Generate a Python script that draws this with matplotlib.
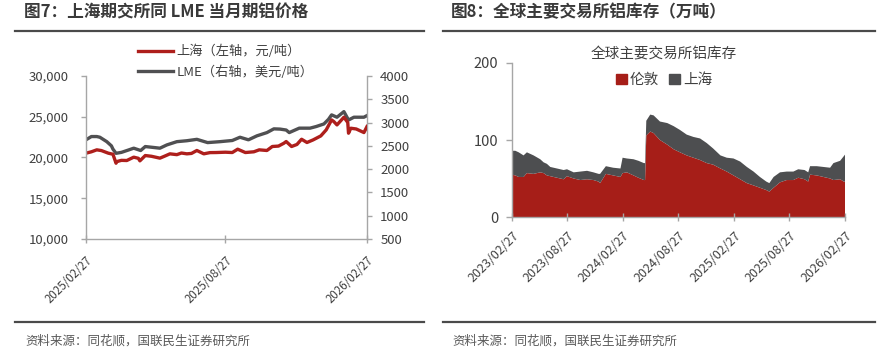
import matplotlib
matplotlib.use("Agg")
import matplotlib.pyplot as plt
import matplotlib.dates as mdates
from matplotlib.lines import Line2D
from matplotlib.patches import Patch
from matplotlib.ticker import StrMethodFormatter, MultipleLocator
import pandas as pd

plt.rcParams['font.family'] = ['Noto Sans CJK SC', 'DejaVu Sans']

# ---------------- data: left chart (price) ----------------
shfe_dates = ["2025-02-27", "2025-03-06", "2025-03-13", "2025-03-19", "2025-03-28", "2025-04-03",
              "2025-04-07", "2025-04-08", "2025-04-14", "2025-04-21", "2025-04-30", "2025-05-06",
              "2025-05-08", "2025-05-15", "2025-05-23", "2025-06-03", "2025-06-10", "2025-06-16",
              "2025-06-25", "2025-07-01", "2025-07-08", "2025-07-14", "2025-07-21", "2025-07-30",
              "2025-08-07", "2025-08-15", "2025-08-27", "2025-09-05", "2025-09-12", "2025-09-22",
              "2025-10-03", "2025-10-10", "2025-10-20", "2025-10-27", "2025-11-04", "2025-11-11",
              "2025-11-14", "2025-11-21", "2025-11-28", "2025-12-04", "2025-12-11", "2025-12-19",
              "2025-12-29", "2026-01-05", "2026-01-12", "2026-01-15", "2026-01-19", "2026-01-28",
              "2026-02-02", "2026-02-03", "2026-02-06", "2026-02-13", "2026-02-23", "2026-02-27"]
shfe_price = [20530, 20700, 20940, 20850, 20530, 20400,
              19300, 19500, 19650, 19630, 20040, 19900,
              19590, 20240, 20150, 19920, 20200, 20450,
              20350, 20550, 20450, 20500, 20860, 20450,
              20600, 20610, 20650, 20610, 21020, 20610,
              20700, 20940, 20860, 21350, 21400, 21750,
              21960, 21350, 21600, 22240, 21840, 22160,
              22650, 23390, 24610, 24400, 24000, 24940,
              24300, 22980, 23590, 23500, 23060, 23800]

lme_dates = ["2025-02-27", "2025-03-06", "2025-03-13", "2025-03-17", "2025-03-26", "2025-04-01",
             "2025-04-03", "2025-04-07", "2025-04-14", "2025-04-23", "2025-04-30", "2025-05-09",
             "2025-05-15", "2025-05-26", "2025-06-03", "2025-06-12", "2025-06-25", "2025-07-08",
             "2025-07-21", "2025-08-04", "2025-08-20", "2025-09-05", "2025-09-15", "2025-09-26",
             "2025-10-07", "2025-10-20", "2025-10-29", "2025-11-06", "2025-11-14", "2025-11-18",
             "2025-12-01", "2025-12-15", "2025-12-23", "2026-01-02", "2026-01-08", "2026-01-12",
             "2026-01-19", "2026-01-28", "2026-02-03", "2026-02-10", "2026-02-23", "2026-02-27"]
lme_price = [2630, 2700, 2700, 2685, 2590, 2500,
             2430, 2340, 2360, 2410, 2450, 2400,
             2485, 2465, 2450, 2520, 2590, 2610,
             2640, 2570, 2590, 2615, 2685, 2630,
             2715, 2785, 2865, 2860, 2840, 2785,
             2880, 2880, 2915, 2970, 3070, 3165,
             3115, 3235, 3055, 3115, 3115, 3150]

left_ticks = ["2025-02-27", "2025-08-27", "2026-02-27"]

# ---------------- data: right chart (inventory, 万吨) ----------------
inv_dates = ["2023-02-27", "2023-03-10", "2023-03-21", "2023-04-06", "2023-04-17", "2023-05-09",
             "2023-05-31", "2023-06-11", "2023-06-22", "2023-07-03", "2023-07-25", "2023-08-16",
             "2023-08-27", "2023-09-18", "2023-10-10", "2023-11-01", "2023-11-22", "2023-12-09",
             "2023-12-14", "2024-01-02", "2024-01-26", "2024-02-19", "2024-02-26", "2024-03-11",
             "2024-04-02", "2024-04-18", "2024-05-06", "2024-05-10", "2024-05-14", "2024-05-27",
             "2024-06-07", "2024-06-28", "2024-07-22", "2024-08-12", "2024-09-02", "2024-09-24",
             "2024-10-16", "2024-11-07", "2024-11-29", "2024-12-20", "2025-01-13", "2025-02-03",
             "2025-02-25", "2025-03-19", "2025-04-10", "2025-05-02", "2025-05-23", "2025-06-13",
             "2025-06-23", "2025-07-07", "2025-07-28", "2025-08-19", "2025-09-10", "2025-09-26",
             "2025-10-17", "2025-10-29", "2025-11-04", "2025-11-26", "2025-12-18", "2026-01-09",
             "2026-01-20", "2026-02-11", "2026-02-23", "2026-02-27"]
london = [55, 54, 52, 52, 57, 56, 58, 57, 54, 53, 51, 49, 53, 50, 48, 49, 48, 46, 44, 56,
          54, 52, 57, 58, 54, 51, 48, 48, 106, 111, 109, 100, 94, 88, 84, 80, 77, 74, 70, 68,
          63, 59, 54, 49, 44, 41, 38, 35, 33, 38, 45, 48, 48, 51, 49, 46, 55, 54, 52, 50,
          48, 49, 46, 46]
shanghai = [31, 32, 32, 28, 27, 24, 17, 14, 15, 12, 12, 12, 9, 8, 11, 11, 10, 10, 12, 10,
            10, 11, 20, 18, 21, 22, 22, 22, 19, 22, 23, 24, 28, 30, 29, 27, 27, 28, 26, 21,
            17, 18, 22, 23, 21, 18, 14, 11, 11, 14, 13, 11, 11, 11, 12, 12, 11, 12, 13, 14,
            22, 24, 33, 35]

right_ticks = ["2023-02-27", "2023-08-27", "2024-02-27", "2024-08-27",
               "2025-02-27", "2025-08-27", "2026-02-27"]

# ---------------- styling ----------------
RED_LINE = "#AE1F1C"
GRAY_LINE = "#505052"
RED_FILL = "#A61E18"
GRAY_FILL = "#4D4E50"
SPINE = "#A6A6A6"
TXT = "#404040"

W, H = 894, 358
fig = plt.figure(figsize=(W / 100, H / 100), dpi=100)


def fx(px):
    return px / W


def fy(py):
    return 1 - py / H


# titles
fig.text(fx(24), fy(12), "图7：上海期交所同 LME 当月期铝价格", fontsize=12, fontweight='bold',
         color="#3A3A3A", ha='left', va='center')
fig.text(fx(451), fy(12), "图8：全球主要交易所铝库存（万吨）", fontsize=12, fontweight='bold',
         color="#3A3A3A", ha='left', va='center')
# separator lines
for (x0, x1) in [(15, 424), (443, 875)]:
    for yy in (30.5, 322.3):
        fig.add_artist(Line2D([fx(x0), fx(x1)], [fy(yy), fy(yy)], color="#4A4A4A", lw=1.6,
                              transform=fig.transFigure))
# footers
fig.text(fx(25), fy(341), "资料来源：同花顺，国联民生证券研究所", fontsize=9, color="#595959",
         ha='left', va='center')
fig.text(fx(452), fy(341), "资料来源：同花顺，国联民生证券研究所", fontsize=9, color="#595959",
         ha='left', va='center')

# ---------------- left chart ----------------
ax1 = fig.add_axes([fx(86), fy(239), fx(367) - fx(86), fy(76) - fy(239)])
ax2 = ax1.twinx()
ax1.set_zorder(ax2.get_zorder() + 1)
ax1.patch.set_visible(False)

d_shfe = pd.to_datetime(shfe_dates)
d_lme = pd.to_datetime(lme_dates)
l2, = ax2.plot(d_lme, lme_price, color=GRAY_LINE, lw=2.4, solid_joinstyle='round')
l1, = ax1.plot(d_shfe, shfe_price, color=RED_LINE, lw=2.4, solid_joinstyle='round')

ax1.set_ylim(10000, 30000)
ax1.yaxis.set_major_locator(MultipleLocator(5000))
ax1.yaxis.set_major_formatter(StrMethodFormatter('{x:,.0f}'))
ax2.set_ylim(500, 4000)
ax2.yaxis.set_major_locator(MultipleLocator(500))
ax1.set_xlim(pd.Timestamp(left_ticks[0]), pd.Timestamp(left_ticks[-1]))
ax1.set_xticks(pd.to_datetime(left_ticks))
ax1.xaxis.set_major_formatter(mdates.DateFormatter('%Y/%m/%d'))

for a in (ax1, ax2):
    a.spines['top'].set_visible(False)
    for s in ('left', 'right', 'bottom'):
        a.spines[s].set_color(SPINE)
        a.spines[s].set_linewidth(1.0)
ax1.spines['right'].set_visible(False)
ax2.spines['left'].set_visible(False)
ax2.spines['bottom'].set_visible(False)

ax1.tick_params(axis='y', direction='out', length=3.5, width=1, color=SPINE,
                labelsize=9.5, labelcolor=TXT, pad=9)
ax2.tick_params(axis='y', direction='out', length=3.5, width=1, color=SPINE,
                labelsize=9.5, labelcolor=TXT, pad=6)
ax1.tick_params(axis='x', direction='inout', length=6, width=1, color=SPINE,
                labelsize=8.3, labelcolor=TXT, pad=8)
for lab in ax1.get_xticklabels():
    lab.set_rotation(45)
    lab.set_ha('right')
    lab.set_va('top')
    lab.set_rotation_mode('anchor')

fig.legend([l1, l2], ["上海（左轴，元/吨）", "LME（右轴，美元/吨）"],
           loc='center', bbox_to_anchor=(fx(226), fy(62)), ncol=1, frameon=False,
           fontsize=9.5, handlelength=2.6, handletextpad=0.3, labelspacing=0.55,
           labelcolor=TXT, borderpad=0)

# ---------------- right chart ----------------
ax3 = fig.add_axes([fx(512), fy(217), fx(845) - fx(512), fy(63) - fy(217)])
d_inv = pd.to_datetime(inv_dates)
ax3.stackplot(d_inv, london, shanghai, colors=[RED_FILL, GRAY_FILL], linewidth=0)
ax3.set_ylim(0, 200)
ax3.yaxis.set_major_locator(MultipleLocator(100))
ax3.set_xlim(pd.Timestamp(right_ticks[0]), pd.Timestamp(right_ticks[-1]))
ax3.set_xticks(pd.to_datetime(right_ticks))
ax3.xaxis.set_major_formatter(mdates.DateFormatter('%Y/%m/%d'))
ax3.spines['top'].set_visible(False)
ax3.spines['right'].set_visible(False)
for s in ('left', 'bottom'):
    ax3.spines[s].set_color(SPINE)
    ax3.spines[s].set_linewidth(1.0)
ax3.tick_params(axis='y', direction='out', length=4, width=1, color=SPINE,
                labelsize=10.5, labelcolor=TXT, pad=6)
ax3.tick_params(axis='x', direction='inout', length=6, width=1, color=SPINE,
                labelsize=9, labelcolor=TXT, pad=6)
for lab in ax3.get_xticklabels():
    lab.set_rotation(45)
    lab.set_ha('right')
    lab.set_va('top')
    lab.set_rotation_mode('anchor')

fig.text(fx(664), fy(54), "全球主要交易所铝库存", fontsize=10.5, color=TXT, ha='center', va='center')
fig.legend([Patch(color=RED_FILL), Patch(color=GRAY_FILL)], ["伦敦", "上海"],
           loc='center', bbox_to_anchor=(fx(664), fy(80)), ncol=2, frameon=False,
           fontsize=10.5, handlelength=0.75, handleheight=0.75, handletextpad=0.2,
           columnspacing=0.7, labelcolor=TXT, borderpad=0)

fig.savefig("out.png", dpi=100)
